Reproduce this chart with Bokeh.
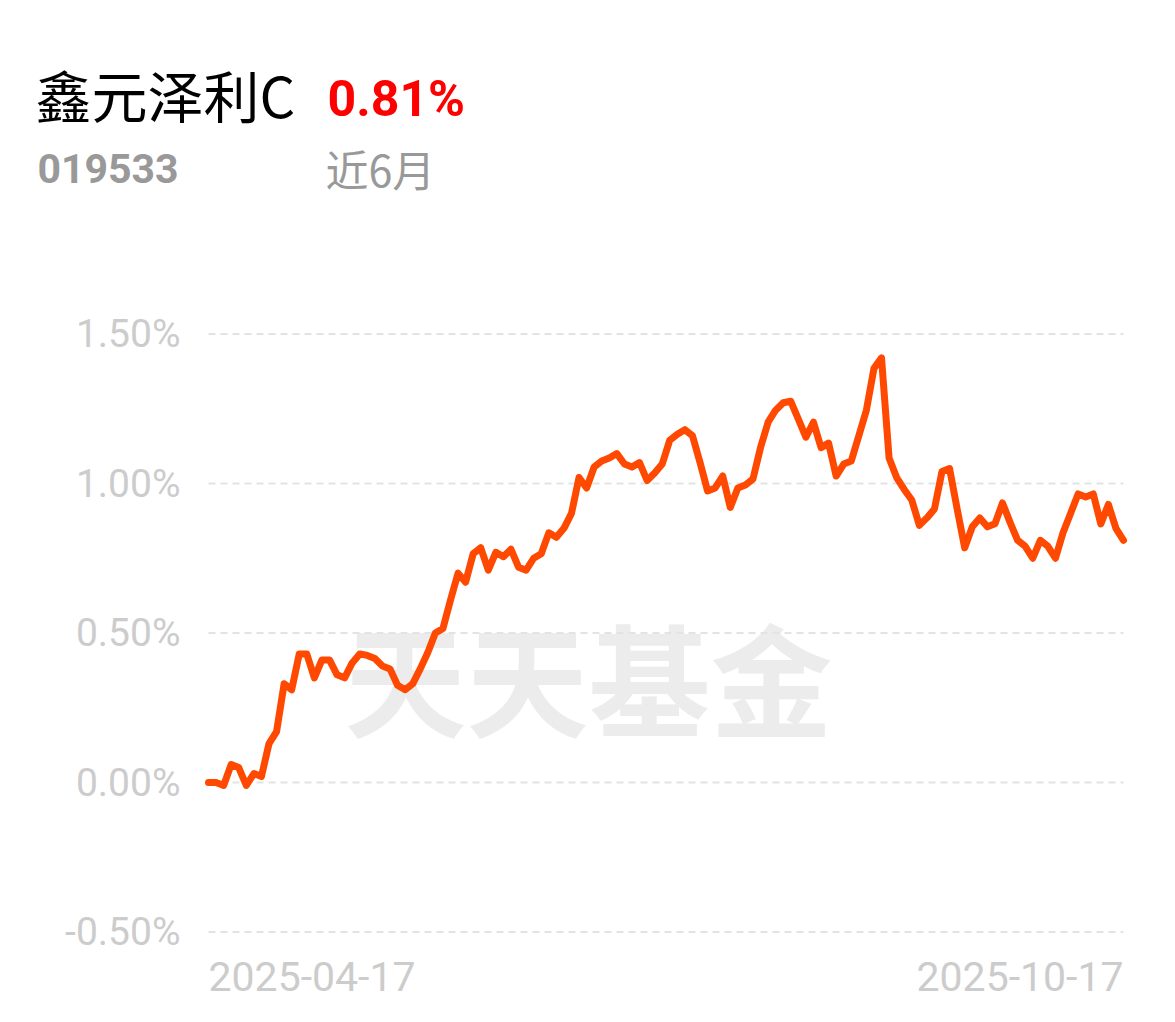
from bokeh.plotting import figure
from bokeh.models import Range1d, FixedTicker, PrintfTickFormatter, Label
from bokeh.embed import file_html
from bokeh.resources import INLINE

fund_name = "鑫元泽利C"
fund_code = "019533"
period_return = "0.81%"
period_label = "近6月"
watermark = "天天基金"
date_labels = ["2025-04-17", "2025-10-17"]
y_ticks = [-0.5, 0.0, 0.5, 1.0, 1.5]

returns = [
    0.00, 0.00, -0.01, 0.06, 0.05, -0.01, 0.03, 0.02, 0.13, 0.17,
    0.33, 0.31, 0.43, 0.43, 0.35, 0.41, 0.41, 0.36, 0.35, 0.40,
    0.43, 0.425, 0.415, 0.39, 0.38, 0.325, 0.31, 0.33, 0.38, 0.435,
    0.50, 0.515, 0.61, 0.70, 0.67, 0.765, 0.785, 0.71, 0.77, 0.755,
    0.78, 0.72, 0.71, 0.75, 0.765, 0.835, 0.82, 0.85, 0.90, 1.02,
    0.985, 1.055, 1.075, 1.085, 1.10, 1.065, 1.055, 1.07, 1.01, 1.035,
    1.065, 1.145, 1.165, 1.18, 1.16, 1.07, 0.975, 0.985, 1.025, 0.92,
    0.985, 0.995, 1.015, 1.12, 1.205, 1.245, 1.27, 1.275, 1.215, 1.155,
    1.205, 1.12, 1.135, 1.025, 1.065, 1.075, 1.16, 1.245, 1.385, 1.42,
    1.085, 1.02, 0.98, 0.945, 0.86, 0.885, 0.915, 1.04, 1.05, 0.915,
    0.785, 0.855, 0.885, 0.855, 0.865, 0.935, 0.87, 0.81, 0.79, 0.75,
    0.81, 0.79, 0.75, 0.835, 0.90, 0.965, 0.955, 0.965, 0.865, 0.93,
    0.85, 0.81,
]
idx = list(range(len(returns)))
n_last = len(returns) - 1

W, H = 1159, 1006
# layout geometry (canvas pixels)
x0_px, xN_px = 208.0, 1123.0          # first / last point
zero_px, px_per_pct = 782.0, 299.0    # 0% line and scale
axis_px = 204.0
px_per_idx = (xN_px - x0_px) / n_last


def dx(px):
    return (px - x0_px) / px_per_idx


def dy(py):
    return (zero_px - py) / px_per_pct


p = figure(width=W, height=H, output_backend="svg", toolbar_location=None,
           x_range=Range1d(dx(0), dx(W)),
           y_range=Range1d(dy(H), dy(0)),
           x_axis_location=None, min_border=0)
p.outline_line_color = None
p.background_fill_color = "white"
p.border_fill_color = "white"
p.grid.visible = False

p.yaxis.fixed_location = dx(axis_px)
p.yaxis.ticker = FixedTicker(ticks=y_ticks)
p.yaxis.formatter = PrintfTickFormatter(format="%.2f%%")
p.yaxis.axis_line_color = None
p.yaxis.major_tick_line_color = None
p.yaxis.minor_tick_line_color = None
p.yaxis.major_tick_out = 0
p.yaxis.major_tick_in = 0
p.yaxis.major_label_standoff = 24
p.yaxis.major_label_text_font = "Roboto"
p.yaxis.major_label_text_font_size = "39px"
p.yaxis.major_label_text_color = "#cccccc"

# dashed horizontal grid across the data span
p.segment(x0=[0] * len(y_ticks), x1=[n_last] * len(y_ticks), y0=y_ticks, y1=y_ticks,
          line_color="#e3e3e3", line_width=2, line_dash="7 5")

cjk = "Noto Sans CJK SC"

# watermark
p.add_layout(Label(x=dx(588), y=dy(674), text=watermark, text_font=cjk,
                   text_font_size="122px", text_font_style="bold", text_color="#ececec",
                   text_align="center", text_baseline="middle", level="underlay"))

p.line(idx, returns, line_width=7, line_color="#ff4800", line_join="round", line_cap="round")

# date labels
for i, (xi, al) in enumerate([(0, "left"), (n_last, "right")]):
    p.add_layout(Label(x=xi, y=dy(976), text=date_labels[i], text_font="Roboto",
                       text_font_size="41px", text_color="#cccccc", text_align=al,
                       text_baseline="middle"))

# header
p.add_layout(Label(x=dx(35), y=dy(93), text=fund_name, text_font=cjk, text_font_size="56px",
                   text_color="#000000", text_align="left", text_baseline="middle"))
p.add_layout(Label(x=dx(327), y=dy(98), text=period_return, text_font="Roboto",
                   text_font_size="50px", text_font_style="bold", text_color="#ff0000",
                   text_align="left", text_baseline="middle"))
p.add_layout(Label(x=dx(37), y=dy(168), text=fund_code, text_font="Roboto",
                   text_font_size="41px", text_font_style="bold", text_color="#999999",
                   text_align="left", text_baseline="middle"))
p.add_layout(Label(x=dx(325), y=dy(167), text=period_label, text_font=cjk,
                   text_font_size="43px", text_color="#999999", text_align="left",
                   text_baseline="middle"))

open("out.html", "w").write(file_html(p, INLINE))
